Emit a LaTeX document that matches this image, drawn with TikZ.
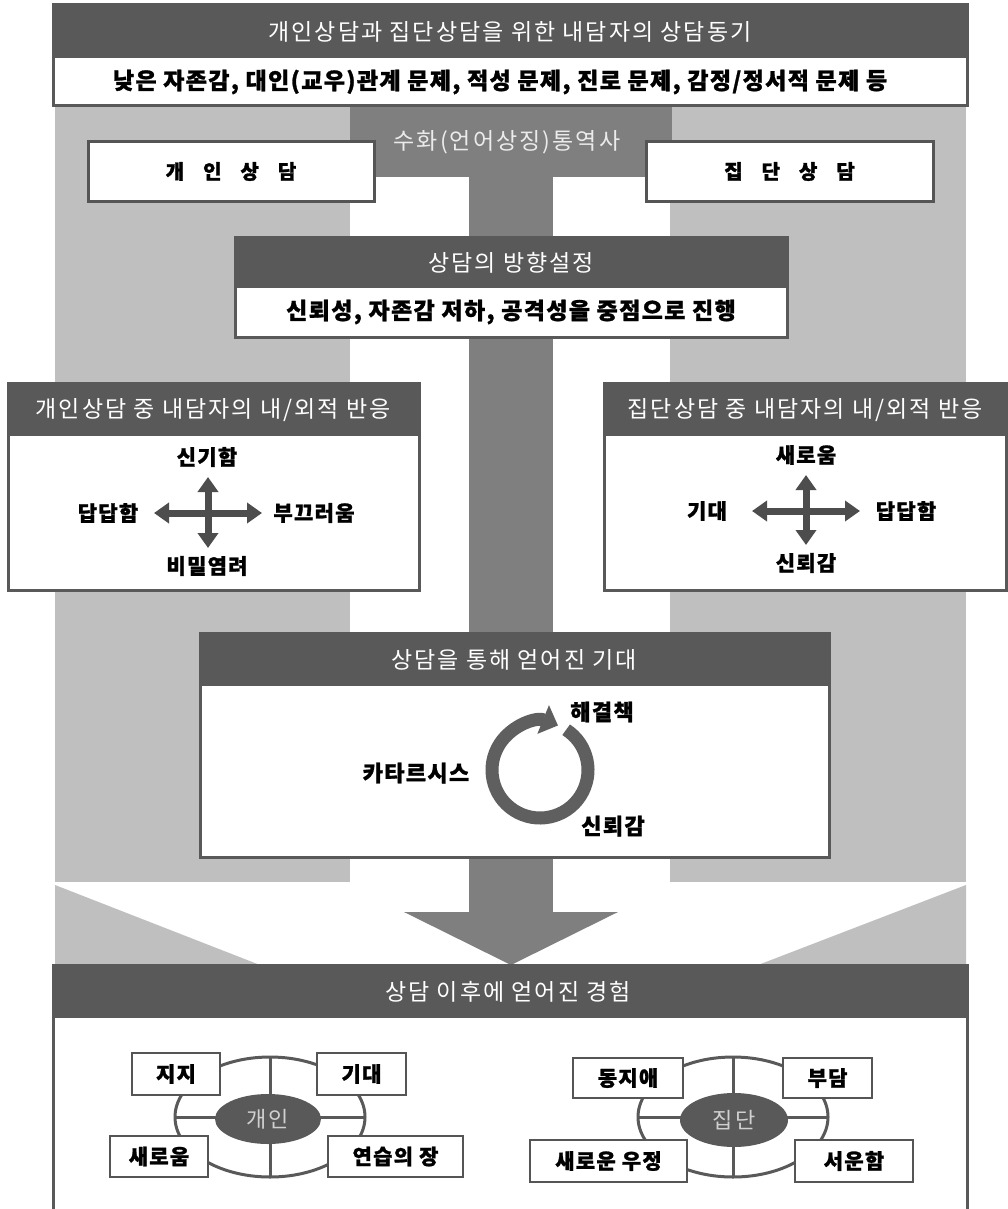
\documentclass[tikz,border=0pt]{standalone}
\usepackage{fontspec}
\setmainfont{Noto Sans CJK KR}
\newfontfamily\hfont{Noto Sans CJK KR}[LetterSpace=9]
\newfontfamily\bfont{Noto Sans CJK KR}[LetterSpace=6, BoldFeatures={FakeBold=1.2}]
\newfontfamily\sfont{Noto Sans CJK KR}[BoldFeatures={FakeBold=1.4}]
\usetikzlibrary{arrows.meta}
\definecolor{hdr}{HTML}{595959}
\definecolor{band}{HTML}{BFBFBF}
\definecolor{mid}{HTML}{7F7F7F}
\definecolor{brd}{HTML}{555555}
\definecolor{arr}{HTML}{4D4D4D}
\definecolor{circ}{HTML}{5F5F5F}
\definecolor{lighttxt}{HTML}{D0D0D0}
\newcommand\mypanel[5]{%
  \draw[draw=hdr, line width=3pt, fill=white] (#1,#2) rectangle (#3,#4);
  \fill[hdr] (#1,#2) rectangle (#3,#5);}
\begin{document}
\begin{tikzpicture}[x=1pt,y=-1pt,
  hdrtxt/.style={text=white, font=\hfont\fontsize{23}{23}\selectfont, inner sep=0},
  bodytxt/.style={text=black, font=\bfont\fontsize{23}{23}\selectfont\bfseries, inner sep=0},
  lbl/.style={text=black, font=\bfont\fontsize{21}{21}\selectfont\bfseries, inner sep=0},
  whitebox/.style={draw=brd, line width=3pt, fill=white, inner sep=0},
  smallbox/.style={draw=brd, line width=2.6pt, fill=white, inner sep=0, font=\bfont\fontsize{21}{21}\selectfont\bfseries},
  crossarrow/.style={draw=arr, line width=7pt, {Triangle[length=15pt,width=20pt]}-{Triangle[length=15pt,width=20pt]}},
  wheel/.style={draw=hdr, line width=3pt},
  hubtxt/.style={text=lighttxt, font=\hfont\fontsize{22}{22}\selectfont, inner sep=0}
]
\clip (0,0) rectangle (1008,1209);
\fill[white] (0,0) rectangle (1008,1209);

% background bands
\fill[band] (55,106) rectangle (350,882);
\fill[band] (670,106) rectangle (966,882);
\fill[band] (55,885) -- (260,965) -- (55,965) -- cycle;
\fill[band] (966,885) -- (758,965) -- (966,965) -- cycle;
\fill[mid] (350,106) rectangle (672,177);
\fill[mid] (469,177) rectangle (553,913);
\fill[mid] (404,912) -- (618,912) -- (511,965) -- cycle;

% top panel
\mypanel{53}{5}{967}{106}{58}
\node[hdrtxt] (motive) at (510,32) {개인상담과 집단상담을 위한 내담자의 상담동기};
\node[bodytxt] (motivelist) at (500,82) {낮은 자존감, 대인(교우)관계 문제, 적성 문제, 진로 문제, 감정/정서적 문제 등};
\node[hdrtxt, text=white!92!black] (interp) at (507,142) {수화(언어상징)통역사};

% individual / group boxes
\node[whitebox, minimum width=286pt, minimum height=59pt, font=\sfont\fontsize{20}{20}\selectfont\bfseries] (indiv) at (231,171.5) {개\hspace{19pt}인\hspace{19pt}상\hspace{19pt}담};
\node[whitebox, minimum width=287pt, minimum height=59pt, font=\sfont\fontsize{20}{20}\selectfont\bfseries] (group) at (789.5,171.5) {집\hspace{19pt}단\hspace{19pt}상\hspace{19pt}담};

% direction panel
\mypanel{235}{237}{787}{337}{288}
\node[hdrtxt] (dirhead) at (511,263) {상담의 방향설정};
\node[bodytxt] (dirbody) at (511,312) {신뢰성, 자존감 저하, 공격성을 중점으로 진행};

% left reaction panel
\mypanel{8}{383}{419}{590}{436}
\node[hdrtxt] (lreact) at (213,410) {개인상담 중 내담자의 내/외적 반응};
\node[lbl] (l1) at (207,457) {신기함};
\node[lbl] (l2) at (108,513) {답답함};
\node[lbl] (l3) at (314,513) {부끄러움};
\node[lbl] (l4) at (207,566) {비밀염려};
\coordinate (lw) at (154,513);
\coordinate (le) at (262,513);
\coordinate (ln) at (208,477);
\coordinate (ls) at (208,548);
\draw[crossarrow] (lw) -- (le);
\draw[crossarrow] (ln) -- (ls);

% right reaction panel
\mypanel{604}{383}{1006}{590}{436}
\node[hdrtxt] (rreact) at (805,410) {집단상담 중 내담자의 내/외적 반응};
\node[lbl] (r1) at (806,455) {새로움};
\node[lbl] (r2) at (707,511) {기대};
\node[lbl] (r3) at (906,511) {답답함};
\node[lbl] (r4) at (806,563) {신뢰감};
\coordinate (rw) at (752,511);
\coordinate (re) at (860,511);
\coordinate (rn) at (806,475);
\coordinate (rs) at (806,545);
\draw[crossarrow] (rw) -- (re);
\draw[crossarrow] (rn) -- (rs);

% expectation panel
\mypanel{200}{633}{829}{857}{686}
\node[hdrtxt] (expect) at (514,660) {상담을 통해 얻어진 기대};
\node[lbl, font=\bfont\fontsize{22}{22}\selectfont\bfseries] (cath) at (416,773) {카타르시스};
\node[lbl, font=\bfont\fontsize{22}{22}\selectfont\bfseries] (solve) at (602,712) {해결책};
\node[lbl, font=\bfont\fontsize{22}{22}\selectfont\bfseries] (trust) at (613,826) {신뢰감};
\coordinate (cyc) at (540,770);
\draw[draw=circ, line width=13pt, -{Triangle[length=16pt,width=30pt]}]
  ([shift={(cyc)}]-57:48) arc[start angle=-57, end angle=292, radius=48];

% bottom panel
\mypanel{53}{965}{967}{1260}{1018}
\node[hdrtxt] (after) at (508,992) {상담 이후에 얻어진 경험};

% left wheel
\draw[wheel] (270,1117) ellipse[x radius=95, y radius=60];
\draw[wheel] (270,1057) -- (270,1177);
\draw[wheel] (175,1117) -- (365,1117);
\fill[hdr] (268,1119) ellipse[x radius=53, y radius=25];
\node[hubtxt] (hub1) at (268,1119) {개인};
\node[smallbox, minimum width=88pt, minimum height=42pt] (w11) at (176,1074) {지지};
\node[smallbox, minimum width=89pt, minimum height=42pt] (w12) at (361.5,1074) {기대};
\node[smallbox, minimum width=98pt, minimum height=41pt] (w13) at (159,1156.5) {새로움};
\node[smallbox, minimum width=135pt, minimum height=41pt] (w14) at (395.5,1156.5) {연습의 장};

% right wheel
\draw[wheel] (733,1117) ellipse[x radius=95, y radius=60];
\draw[wheel] (733,1057) -- (733,1177);
\draw[wheel] (638,1117) -- (828,1117);
\fill[hdr] (734,1120) ellipse[x radius=54, y radius=27];
\node[hubtxt] (hub2) at (734,1120) {집단};
\node[smallbox, minimum width=110pt, minimum height=40pt] (w21) at (628,1078) {동지애};
\node[smallbox, minimum width=89pt, minimum height=40pt] (w22) at (827.5,1078) {부담};
\node[smallbox, minimum width=157pt, minimum height=42pt] (w23) at (608.5,1161) {새로운 우정};
\node[smallbox, minimum width=118pt, minimum height=42pt] (w24) at (854,1161) {서운함};
\end{tikzpicture}
\end{document}
